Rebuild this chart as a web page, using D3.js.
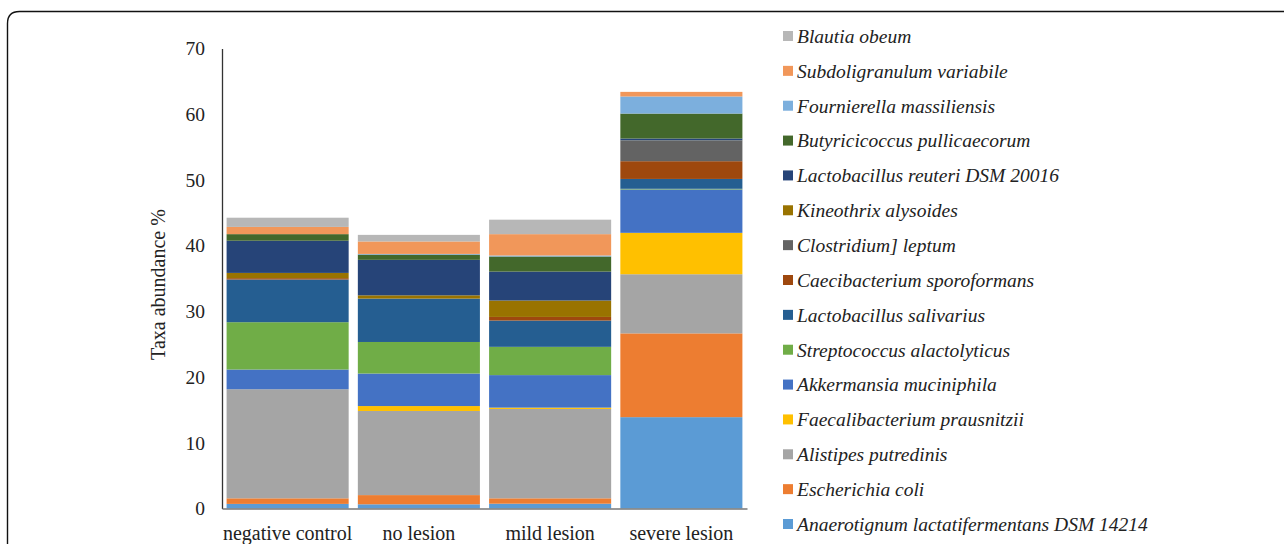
<!DOCTYPE html>
<html>
<head>
<meta charset="utf-8">
<script src="https://cdn.jsdelivr.net/npm/d3@7"></script>
<style>
  body { margin: 0; background: #fff; }
  svg { display: block; }
  text { font-family: "Liberation Serif", "DejaVu Serif", serif; fill: #222; }
</style>
</head>
<body>
<div id="chart"></div>
<script>
const groups = ['negative control', 'no lesion', 'mild lesion', 'severe lesion']

// stacking order bottom -> top
const taxa = [
  'Anaerotignum lactatifermentans DSM 14214',
  'Escherichia coli',
  'Alistipes putredinis',
  'Faecalibacterium prausnitzii',
  'Akkermansia muciniphila',
  'Streptococcus alactolyticus',
  'Lactobacillus salivarius',
  'Caecibacterium sporoformans',
  'Clostridium] leptum',
  'Kineothrix alysoides',
  'Lactobacillus reuteri DSM 20016',
  'Butyricicoccus pullicaecorum',
  'Fournierella massiliensis',
  'Subdoligranulum variabile',
  'Blautia obeum'
]

const colors = [
  '#5b9bd5', '#ed7d31', '#a5a5a5', '#ffc000', '#4472c4',
  '#70ad47', '#255e91', '#9e480e', '#636363', '#997300',
  '#264478', '#43682b', '#7cafdd', '#f1975a', '#b7b7b7'
]

// values per taxon, in group order
const negativeControl = [0.7, 0.85, 16.6, 0, 3.0, 7.2, 6.5, 0.2, 0, 0.8, 4.9, 1.0, 0, 1.1, 1.4]
const noLesion        = [0.64, 1.4, 12.8, 0.75, 4.95, 4.8, 6.6, 0, 0, 0.5, 5.4, 0.8, 0.1, 1.9, 1.0]
const mildLesion      = [0.73, 0.82, 13.6, 0.2, 4.95, 4.3, 4.0, 0.55, 0, 2.5, 4.4, 2.3, 0.15, 3.25, 2.2]
const severeLesion    = [13.9, 12.75, 9.0, 6.3, 6.6, 0.1, 1.5, 2.7, 3.1, 0.05, 0.3, 3.8, 2.6, 0.7, 0]

const yTicks = [0, 10, 20, 30, 40, 50, 60, 70]

const W = 1284, H = 544
const margin = {left: 222, right: 537, top: 48.5, bottom: 35.5}

const rows = [negativeControl, noLesion, mildLesion, severeLesion].map((vals, i) => {
  const r = {group: groups[i]}
  taxa.forEach((t, j) => { r[t] = vals[j] })
  return r
})

const series = d3.stack().keys(taxa)(rows)

const x = d3.scaleBand()
  .domain(groups)
  .range([margin.left, W - margin.right])
  .paddingInner(0.07)
  .paddingOuter(0.035)

const y = d3.scaleLinear()
  .domain([0, 70])
  .range([H - margin.bottom, margin.top])

const color = d3.scaleOrdinal().domain(taxa).range(colors)

const svg = d3.select('#chart').append('svg')
  .attr('width', W)
  .attr('height', H)

// rounded frame
svg.append('path')
  .attr('d', `M7.5,${H + 5} L7.5,23.5 Q7.5,11.5 19.5,11.5 L${W + 5},11.5`)
  .attr('fill', 'none')
  .attr('stroke', '#111')
  .attr('stroke-width', 1.4)

svg.append('g').selectAll('g').data(series).enter().append('g')
    .attr('fill', d => color(d.key))
  .selectAll('rect').data(d => d).enter().append('rect')
    .attr('x', d => x(d.data.group))
    .attr('width', x.bandwidth())
    .attr('y', d => y(d[1]))
    .attr('height', d => y(d[0]) - y(d[1]))

// y axis
const yAxis = svg.append('g')
  .attr('transform', `translate(${margin.left},0)`)
  .call(d3.axisLeft(y).tickValues(yTicks).tickSize(0).tickPadding(17))
yAxis.select('.domain').attr('stroke', '#333').attr('stroke-width', 1.3)
yAxis.selectAll('text').attr('font-size', 19.5).attr('fill', '#222')
  .attr('font-family', '"Liberation Serif", serif')

// x axis
const xAxis = svg.append('g')
  .attr('transform', `translate(0,${y(0)})`)
  .call(d3.axisBottom(x).tickSize(0).tickPadding(17))
xAxis.select('.domain').attr('stroke', '#777').attr('stroke-width', 1.3)
xAxis.selectAll('text').attr('font-size', 20).attr('fill', '#222')
  .attr('font-family', '"Liberation Serif", serif')

// y title
svg.append('text')
  .attr('transform', `translate(165,${(y(0) + y(70)) / 2 + 6}) rotate(-90)`)
  .attr('text-anchor', 'middle')
  .attr('font-size', 20)
  .text('Taxa abundance %')

// legend, top -> bottom is reversed stack order
const legendItems = taxa.slice().reverse()
const ly = d3.scalePoint().domain(legendItems).range([36, 524])

const legend = svg.append('g').selectAll('g').data(legendItems).enter().append('g')
  .attr('transform', d => `translate(783,${ly(d)})`)
legend.append('rect')
  .attr('y', -5)
  .attr('width', 10)
  .attr('height', 10)
  .attr('fill', d => color(d))
legend.append('text')
  .attr('x', 14)
  .attr('dy', '0.35em')
  .attr('font-size', 19.5)
  .attr('font-style', 'italic')
  .text(d => d)
</script>
</body>
</html>
